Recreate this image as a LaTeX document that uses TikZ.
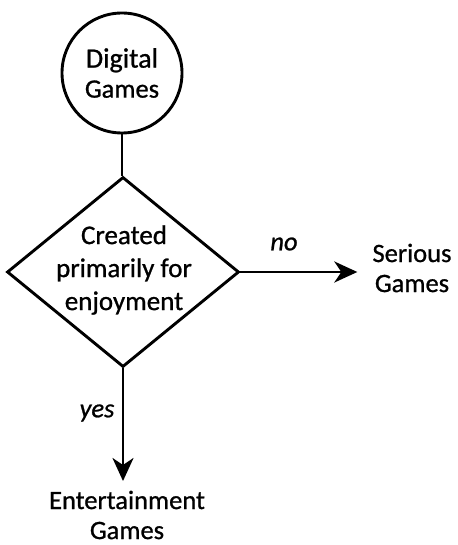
\documentclass[tikz,border=0pt]{standalone}
\usepackage{fontspec}
\setmainfont{Carlito}[FakeBold=0.9]
\usetikzlibrary{shapes.geometric,arrows.meta}
\begin{document}
\begin{tikzpicture}[x=1pt,y=-1pt,
  every node/.style={font=\fontsize{26.5}{30}\selectfont, align=center},
  ln/.style={line width=2.9pt},
  arr/.style={ln,-{Stealth[length=23pt,width=21pt,inset=7pt]}},
  start/.style={draw,circle,ln,minimum size=120pt,inner sep=0pt},
  decide/.style={draw,diamond,ln,minimum width=232pt,minimum height=190pt,inner sep=0pt},
  outcome/.style={inner sep=0pt},
  lbl/.style={font=\fontsize{26.5}{30}\selectfont\itshape}]
\useasboundingbox (0,0) rectangle (457,545);

% start circle and decision diamond
\node[start] (dg) at (122,73) {\fontsize{28}{29}\selectfont Digital\\Games};
\node[decide] (q) at (123,272) {};
\node[align=center,font=\fontsize{27}{33}\selectfont] (qt) at (124,270)
  {Created\\primarily for\\enjoyment};

% outcomes
\node[outcome] (sg) at (412,268) {Serious\\Games};
\node[outcome] (eg) at (127,515) {Entertainment\\Games};
\coordinate (yestip) at (123,481);

% connectors
\draw[ln] (dg.south) -- (dg.south |- q.north);
\draw[arr,shorten >=15pt] (q.east) -- (sg.west |- q.east);
\draw[arr] (q.south) -- (yestip);
\node[lbl] (no) at (284,244) {no};
\node[lbl] (yes) at (97,413) {yes};
\end{tikzpicture}
\end{document}
